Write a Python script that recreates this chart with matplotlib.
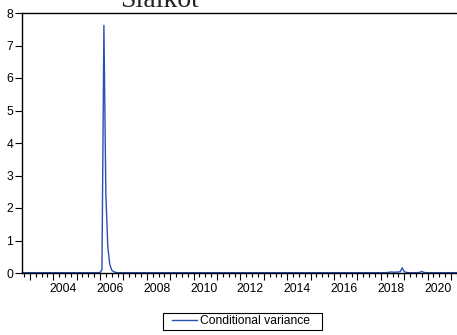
import numpy as np
import matplotlib
matplotlib.use("Agg")
import matplotlib.pyplot as plt
from matplotlib.patches import Rectangle
from matplotlib.ticker import MultipleLocator, NullFormatter
from matplotlib.transforms import ScaledTranslation

# Monthly conditional variance, 2002M09 - 2021M06
start_year, start_month = 2002, 9
variance_by_year = {
    2002: [0.01, 0.01, 0.01, 0.01],
    2003: [0.01, 0.01, 0.01, 0.01, 0.01, 0.01, 0.01, 0.01, 0.01, 0.01, 0.01, 0.01],
    2004: [0.01, 0.01, 0.01, 0.01, 0.01, 0.01, 0.01, 0.01, 0.01, 0.01, 0.01, 0.01],
    2005: [0.01, 0.01, 0.01, 0.01, 0.01, 0.01, 0.01, 0.01, 0.01, 0.01, 0.01, 0.01],
    2006: [0.01, 0.10, 7.62, 2.45, 0.80, 0.27, 0.09, 0.04, 0.02, 0.01, 0.01, 0.01],
    2007: [0.01, 0.01, 0.01, 0.01, 0.01, 0.01, 0.01, 0.01, 0.01, 0.01, 0.01, 0.01],
    2008: [0.01, 0.01, 0.01, 0.01, 0.01, 0.01, 0.01, 0.01, 0.01, 0.01, 0.01, 0.01],
    2009: [0.01, 0.01, 0.01, 0.01, 0.01, 0.01, 0.01, 0.01, 0.01, 0.01, 0.01, 0.01],
    2010: [0.01, 0.01, 0.01, 0.01, 0.01, 0.01, 0.01, 0.01, 0.01, 0.01, 0.01, 0.01],
    2011: [0.01, 0.01, 0.01, 0.01, 0.01, 0.01, 0.01, 0.01, 0.01, 0.01, 0.01, 0.01],
    2012: [0.01, 0.01, 0.01, 0.01, 0.01, 0.01, 0.01, 0.01, 0.01, 0.01, 0.01, 0.01],
    2013: [0.01, 0.01, 0.01, 0.01, 0.01, 0.01, 0.01, 0.01, 0.01, 0.01, 0.01, 0.01],
    2014: [0.01, 0.01, 0.01, 0.01, 0.01, 0.01, 0.01, 0.01, 0.01, 0.01, 0.01, 0.01],
    2015: [0.01, 0.01, 0.01, 0.01, 0.01, 0.01, 0.01, 0.01, 0.01, 0.01, 0.01, 0.01],
    2016: [0.01, 0.01, 0.01, 0.01, 0.01, 0.01, 0.01, 0.01, 0.01, 0.01, 0.01, 0.01],
    2017: [0.01, 0.01, 0.01, 0.01, 0.01, 0.01, 0.01, 0.01, 0.01, 0.01, 0.01, 0.01],
    2018: [0.01, 0.01, 0.01, 0.01, 0.02, 0.03, 0.03, 0.02, 0.03, 0.03, 0.04, 0.16],
    2019: [0.04, 0.02, 0.01, 0.01, 0.01, 0.01, 0.01, 0.01, 0.02, 0.05, 0.02, 0.01],
    2020: [0.01, 0.01, 0.01, 0.01, 0.01, 0.01, 0.01, 0.01, 0.01, 0.01, 0.01, 0.01],
    2021: [0.01, 0.01, 0.01, 0.01, 0.01, 0.01],
}
series_label = "Conditional variance"
title_text = "Sialkot"
year_labels = [2004, 2006, 2008, 2010, 2012, 2014, 2016, 2018, 2020]
y_ticks = [0, 1, 2, 3, 4, 5, 6, 7, 8]

values = np.concatenate([variance_by_year[y] for y in sorted(variance_by_year)])
t = start_year + (start_month - 1) / 12 + np.arange(len(values)) / 12

W, H, DPI = 457, 335, 100
plt.rcParams["font.family"] = ["Liberation Sans", "DejaVu Sans"]
fig = plt.figure(figsize=(W / DPI, H / DPI), dpi=DPI)

left_px, right_px, top_px, bottom_px = 22, 460.75, 13, 273
ax = fig.add_axes([left_px / W, 1 - bottom_px / H,
                   (right_px - left_px) / W, (bottom_px - top_px) / H])

line_color = "#2a4fb6"
ax.plot(t, values, color=line_color, lw=1.0, label=series_label)

ax.set_xlim(t[0], t[-1])
ax.set_ylim(0, 8)

for side in ("left", "bottom", "top", "right"):
    ax.spines[side].set_linewidth(1.0)
    ax.spines[side].set_color("black")

ax.set_yticks(y_ticks)
ax.set_yticklabels([str(v) for v in y_ticks])
ax.tick_params(axis="y", direction="out", length=5, width=0.8, pad=1.5,
               labelsize=8.7, colors="black")

# year ticks, quarterly minor ticks, labels every second year
ax.xaxis.set_major_locator(MultipleLocator(1))
ax.xaxis.set_minor_locator(MultipleLocator(0.25))
ax.xaxis.set_major_formatter(NullFormatter())
ax.tick_params(axis="x", which="major", direction="out", length=5, width=0.8)
ax.tick_params(axis="x", which="minor", direction="out", length=3, width=0.8)
ax.tick_params(axis="x", which="both", top=False)

label_shift = ScaledTranslation(10 / DPI, -10 / DPI, fig.dpi_scale_trans)
for yr in year_labels:
    ax.text(yr, 0, str(yr), transform=ax.get_xaxis_transform() + label_shift,
            ha="center", va="top", fontsize=8.7, color="black")

fig.text(160 / W, 1 - 7 / H, title_text, ha="center", va="baseline",
         fontsize=20, family=["Liberation Serif", "DejaVu Serif"], color="#222222")

# legend with a plain box drawn around it
leg = fig.legend(loc="center", bbox_to_anchor=(241 / W, 1 - 321 / H),
                 fontsize=8.7, frameon=False,
                 handlelength=2.1, handletextpad=0.3, borderpad=0.2,
                 borderaxespad=0)
box = Rectangle((163 / W, 1 - 329.5 / H), (322 - 163) / W, 16.5 / H,
                transform=fig.transFigure, fill=False, edgecolor="black",
                linewidth=0.8)
fig.add_artist(box)

fig.savefig("out.png", dpi=DPI)
